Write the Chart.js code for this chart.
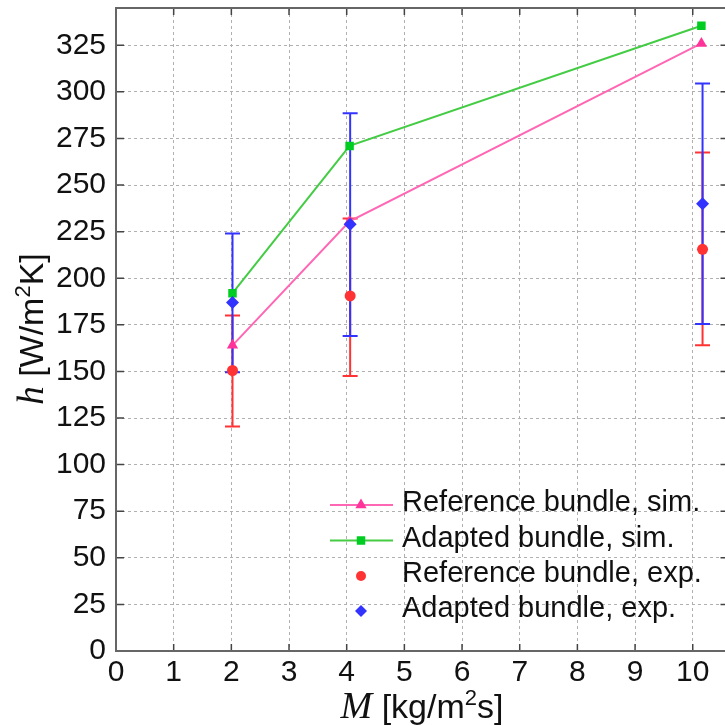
<!DOCTYPE html>
<html>
<head>
<meta charset="utf-8">
<script src="https://cdn.jsdelivr.net/npm/chart.js@4/dist/chart.umd.min.js"></script>
<style>
  html, body { margin: 0; padding: 0; overflow: hidden; background: #fff; }
  #wrap { width: 735px; height: 726px; }
</style>
</head>
<body>
<div id="wrap"><canvas id="htcChart" width="735" height="726"></canvas></div>
<script>
// mass flux M [kg/m2s] for each measurement point
const simM = [2.02, 4.05, 10.15];
const expM = [2.02, 4.06, 10.17];

// heat transfer coefficient h [W/m2K]
const refSim = [164, 230.5, 326];
const adaSim = [192, 271, 335.5];
const refExp = [150.5, 190.5, 215.5];
const refExpLow = [120.5, 147.5, 164];
const refExpHigh = [180, 232, 267.5];
const adaExp = [187, 229, 240];
const adaExpLow = [149.5, 169, 175.5];
const adaExpHigh = [224, 288.5, 304.5];

const seriesLabels = [
    'Reference bundle, sim.',
    'Adapted bundle, sim.',
    'Reference bundle, exp.',
    'Adapted bundle, exp.'
];

const xTickStep = 1;
const yTickStep = 25;

const COLORS = {
    pinkLine: '#ff66b3',
    pink: '#ff3399',
    greenLine: '#44cc44',
    green: '#00cc22',
    red: '#ff3333',
    blue: '#3333ff',
    grid: '#b0b0b0',
    frame: '#666666'
};

const sansFont = "'Liberation Sans', Arial, Helvetica, sans-serif";
const serifFont = "'Liberation Serif', 'Times New Roman', serif";

function toPoints(xs, ys) {
    return xs.map((x, i) => ({ x: x, y: ys[i] }));
}

// draws a row of text pieces with different fonts, centred on x
function drawRich(ctx, parts, cx, cy) {
    let total = 0;
    parts.forEach(p => {
        ctx.font = p.font;
        p.w = ctx.measureText(p.t).width;
        total += p.w;
    });
    let x = cx - total / 2;
    parts.forEach(p => {
        ctx.font = p.font;
        ctx.fillText(p.t, x, cy + (p.dy || 0));
        x += p.w;
    });
}

function drawMarker(ctx, style, radius, x, y) {
    if (Chart.helpers && Chart.helpers.drawPoint) {
        Chart.helpers.drawPoint(ctx, { pointStyle: style, radius: radius, rotation: 0, borderWidth: 0 }, x, y);
    } else {
        ctx.beginPath();
        ctx.arc(x, y, radius, 0, Math.PI * 2);
        ctx.fill();
    }
}

// frame, inward tick marks and error bars, drawn under the markers
const framePlugin = {
    id: 'framePlugin',
    beforeDatasetsDraw(chart) {
        const ctx = chart.ctx;
        const area = chart.chartArea;
        const xs = chart.scales.x;
        const ys = chart.scales.y;
        ctx.save();

        // tick marks pointing into the plot
        ctx.strokeStyle = '#444';
        ctx.lineWidth = 1.5;
        ctx.beginPath();
        xs.ticks.forEach(t => {
            const px = xs.getPixelForValue(t.value);
            ctx.moveTo(px, area.top);
            ctx.lineTo(px, area.top + 7);
            ctx.moveTo(px, area.bottom);
            ctx.lineTo(px, area.bottom - 7);
        });
        ys.ticks.forEach(t => {
            const py = ys.getPixelForValue(t.value);
            ctx.moveTo(area.left, py);
            ctx.lineTo(area.left + 8, py);
            ctx.moveTo(area.right, py);
            ctx.lineTo(area.right - 8, py);
        });
        ctx.stroke();

        // frame
        ctx.strokeStyle = COLORS.frame;
        ctx.lineWidth = 2;
        ctx.strokeRect(area.left, area.top, area.right - area.left, area.bottom - area.top);

        // error bars, red first then blue on top
        const bars = [
            { m: expM, lo: refExpLow, hi: refExpHigh, color: COLORS.red },
            { m: expM, lo: adaExpLow, hi: adaExpHigh, color: COLORS.blue }
        ];
        bars.forEach(b => {
            ctx.strokeStyle = b.color;
            ctx.lineWidth = 2;
            ctx.beginPath();
            b.m.forEach((m, i) => {
                const px = xs.getPixelForValue(m);
                const pLo = ys.getPixelForValue(b.lo[i]);
                const pHi = ys.getPixelForValue(b.hi[i]);
                ctx.moveTo(px, pLo);
                ctx.lineTo(px, pHi);
                ctx.moveTo(px - 7.5, pLo);
                ctx.lineTo(px + 7.5, pLo);
                ctx.moveTo(px - 7.5, pHi);
                ctx.lineTo(px + 7.5, pHi);
            });
            ctx.stroke();
        });
        ctx.restore();
    }
};

// legend inside the plot and the two axis titles
const legendAndTitles = {
    id: 'legendAndTitles',
    afterDraw(chart) {
        const ctx = chart.ctx;
        ctx.save();

        const entries = [
            { line: COLORS.pinkLine, fill: COLORS.pink, style: 'triangle', r: 6.5 },
            { line: COLORS.greenLine, fill: COLORS.green, style: 'rect', r: 6 },
            { line: null, fill: COLORS.red, style: 'circle', r: 5 },
            { line: null, fill: COLORS.blue, style: 'rectRot', r: 6 }
        ];
        const rowY = [505, 540.5, 576, 611];
        entries.forEach((e, i) => {
            const y = rowY[i];
            if (e.line) {
                ctx.strokeStyle = e.line;
                ctx.lineWidth = 2;
                ctx.beginPath();
                ctx.moveTo(330, y);
                ctx.lineTo(393, y);
                ctx.stroke();
            }
            ctx.fillStyle = e.fill;
            drawMarker(ctx, e.style, e.r, 361, y);
            ctx.fillStyle = '#111';
            ctx.font = '29px ' + sansFont;
            ctx.textAlign = 'left';
            ctx.textBaseline = 'middle';
            ctx.fillText(seriesLabels[i], 402, y - 2);
        });

        // axis titles
        ctx.fillStyle = '#111';
        ctx.textAlign = 'left';
        ctx.textBaseline = 'alphabetic';
        drawRich(ctx, [
            { t: 'M', font: 'italic 38px ' + serifFont },
            { t: ' [kg/m', font: '34px ' + sansFont },
            { t: '2', font: '22px ' + sansFont, dy: -13 },
            { t: 's]', font: '34px ' + sansFont }
        ], 422, 718);

        ctx.translate(43, 329);
        ctx.rotate(-Math.PI / 2);
        drawRich(ctx, [
            { t: 'h', font: 'italic 37px ' + serifFont },
            { t: ' [W/m', font: '34px ' + sansFont },
            { t: '2', font: '22px ' + sansFont, dy: -13 },
            { t: 'K]', font: '34px ' + sansFont }
        ], 0, 0);
        ctx.restore();
    }
};

const ctx = document.getElementById('htcChart');

const htcConfig = {
    type: 'scatter',
    data: {
        datasets: [
            {
                label: seriesLabels[0],
                data: toPoints(simM, refSim),
                showLine: true,
                borderColor: COLORS.pinkLine,
                borderWidth: 2,
                pointStyle: 'triangle',
                pointRadius: 6.5,
                pointBackgroundColor: COLORS.pink,
                pointBorderColor: COLORS.pink,
                pointBorderWidth: 0,
                order: 3
            },
            {
                label: seriesLabels[1],
                data: toPoints(simM, adaSim),
                showLine: true,
                borderColor: COLORS.greenLine,
                borderWidth: 2,
                pointStyle: 'rect',
                pointRadius: 6,
                pointBackgroundColor: COLORS.green,
                pointBorderColor: COLORS.green,
                pointBorderWidth: 0,
                order: 2
            },
            {
                label: seriesLabels[2],
                data: toPoints(expM, refExp),
                showLine: false,
                pointStyle: 'circle',
                pointRadius: 5.5,
                pointBackgroundColor: COLORS.red,
                pointBorderColor: COLORS.red,
                pointBorderWidth: 0,
                order: 1
            },
            {
                label: seriesLabels[3],
                data: toPoints(expM, adaExp),
                showLine: false,
                pointStyle: 'rectRot',
                pointRadius: 6.5,
                pointBackgroundColor: COLORS.blue,
                pointBorderColor: COLORS.blue,
                pointBorderWidth: 0,
                order: 0
            }
        ]
    },
    options: {
        responsive: false,
        animation: false,
        devicePixelRatio: 1,
        layout: {
            padding: { top: 8, right: 5, left: 0, bottom: 0 }
        },
        plugins: {
            legend: { display: false },
            tooltip: { enabled: false },
            title: { display: false }
        },
        scales: {
            x: {
                type: 'linear',
                min: 0,
                max: 10.62,
                afterBuildTicks: scale => {
                    scale.ticks = scale.ticks.filter(t => Math.abs(t.value - Math.round(t.value)) < 1e-6);
                },
                afterFit: scale => {
                    scale.height = 75;
                    scale.paddingLeft = 0;
                    scale.paddingRight = 0;
                },
                ticks: {
                    stepSize: xTickStep,
                    includeBounds: false,
                    color: '#111',
                    padding: 4,
                    maxRotation: 0,
                    autoSkip: false,
                    font: { family: sansFont, size: 30 }
                },
                grid: {
                    color: COLORS.grid,
                    lineWidth: 1,
                    drawTicks: false
                },
                border: { display: false, dash: [3, 3] }
            },
            y: {
                min: 0,
                max: 345,
                afterBuildTicks: scale => {
                    scale.ticks = scale.ticks.filter(t => t.value % yTickStep === 0);
                },
                afterFit: scale => {
                    scale.width = 116;
                    scale.paddingTop = 0;
                    scale.paddingBottom = 0;
                },
                ticks: {
                    stepSize: yTickStep,
                    includeBounds: false,
                    color: '#111',
                    padding: 10,
                    autoSkip: false,
                    font: { family: sansFont, size: 30 }
                },
                grid: {
                    color: COLORS.grid,
                    lineWidth: 1,
                    drawTicks: false
                },
                border: { display: false, dash: [3, 3] }
            }
        }
    },
    plugins: [framePlugin, legendAndTitles]
};

const htcChart = new Chart(ctx, htcConfig);
</script>
</body>
</html>
